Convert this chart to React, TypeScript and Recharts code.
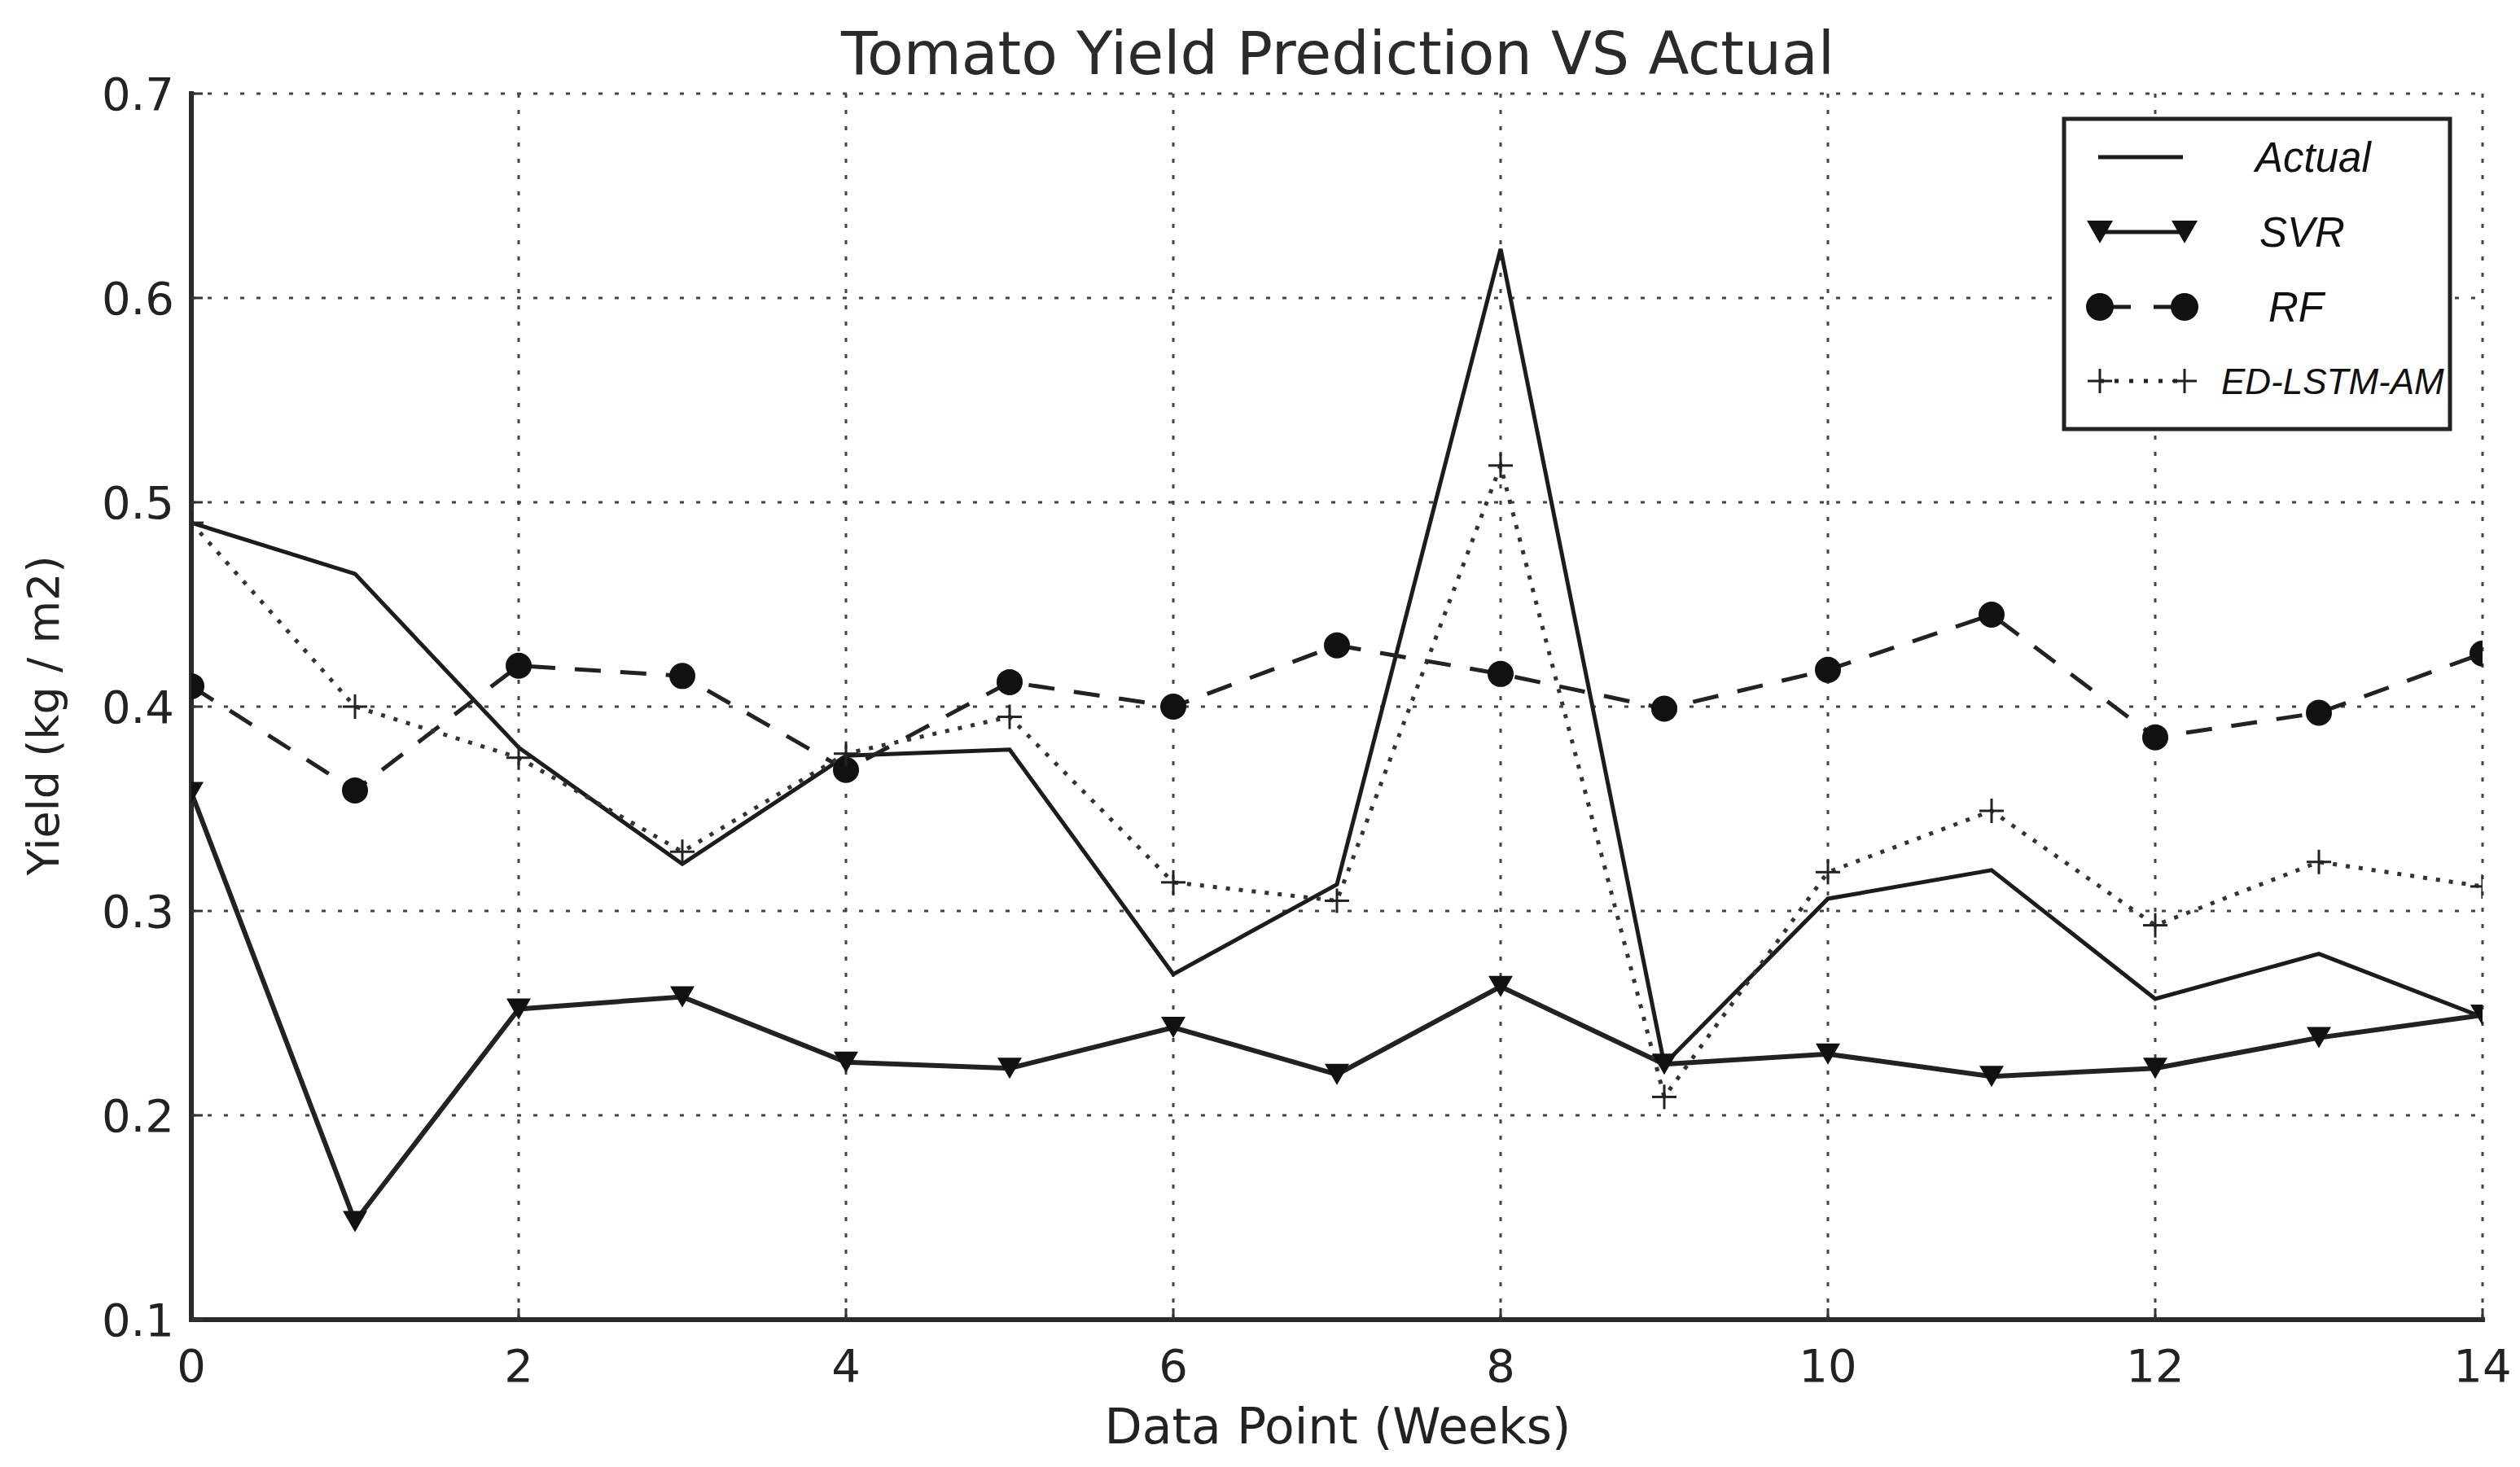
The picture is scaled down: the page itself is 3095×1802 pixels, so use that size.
import React from 'react';
import { LineChart, Line, XAxis, YAxis, CartesianGrid, Legend } from 'recharts';

const weeks = [0, 1, 2, 3, 4, 5, 6, 7, 8, 9, 10, 11, 12, 13, 14];
const actual = [0.49, 0.465, 0.38, 0.323, 0.376, 0.379, 0.269, 0.313, 0.624, 0.225, 0.306, 0.32, 0.257, 0.279, 0.248];
const svr = [0.358, 0.148, 0.252, 0.258, 0.226, 0.223, 0.243, 0.22, 0.263, 0.225, 0.23, 0.219, 0.223, 0.238, 0.249];
const rf = [0.41, 0.359, 0.42, 0.415, 0.369, 0.412, 0.4, 0.43, 0.416, 0.399, 0.418, 0.445, 0.385, 0.397, 0.426];
const edLstm = [0.49, 0.4, 0.375, 0.329, 0.377, 0.395, 0.314, 0.305, 0.518, 0.209, 0.319, 0.349, 0.293, 0.324, 0.312];

const xTicks = [0, 2, 4, 6, 8, 10, 12, 14];
const yTicks = [0.1, 0.2, 0.3, 0.4, 0.5, 0.6, 0.7];
const seriesOrder = ['Actual', 'SVR', 'RF', 'ED-LSTM-AM'];

const data = weeks.map((w, i) => ({
  week: w,
  actual: actual[i],
  svr: svr[i],
  rf: rf[i],
  ed: edLstm[i],
}));

const FONT = '"DejaVu Sans", sans-serif';
const INK = '#1c1c1c';

const triangle = (cx: number, cy: number, w: number, h: number) =>
  `M${cx - w},${cy - h} L${cx + w},${cy - h} L${cx},${cy + h} Z`;

const SvrDot = (props: any) => {
  const { cx, cy, index } = props;
  if (cx == null || cy == null) return <g key={`svr-${index}`} />;
  return <path key={`svr-${index}`} d={triangle(cx, cy, 15, 13)} fill="#111" />;
};

const RfDot = (props: any) => {
  const { cx, cy, index } = props;
  if (cx == null || cy == null) return <g key={`rf-${index}`} />;
  return <circle key={`rf-${index}`} cx={cx} cy={cy} r={16} fill="#111" />;
};

const PlusDot = (props: any) => {
  const { cx, cy, index } = props;
  if (cx == null || cy == null) return <g key={`ed-${index}`} />;
  return (
    <g key={`ed-${index}`} stroke="#222" strokeWidth={3}>
      <line x1={cx - 15} y1={cy} x2={cx + 15} y2={cy} />
      <line x1={cx} y1={cy - 15} x2={cx} y2={cy + 15} />
    </g>
  );
};

// legend box drawn like the matplotlib one
const renderLegend = (props: any) => {
  const payload = [...(props.payload || [])].sort(
    (a: any, b: any) => seriesOrder.indexOf(a.value) - seriesOrder.indexOf(b.value)
  );
  const rowY = [50, 142, 234, 325];
  const textX = [238, 243, 254, 196];
  const x1 = 47;
  const x2 = 151;
  return (
    <svg width={480} height={387} style={{ display: 'block' }}>
      <rect x={3} y={3} width={474} height={381} fill="#fff" stroke="#222" strokeWidth={5} />
      {payload.map((entry: any, i: number) => {
        const y = rowY[i];
        let symbol: React.ReactNode = null;
        if (entry.value === 'Actual') {
          symbol = <line x1={x1 - 2} y1={y} x2={x2 - 2} y2={y} stroke={INK} strokeWidth={5} />;
        } else if (entry.value === 'SVR') {
          symbol = (
            <g>
              <line x1={x1} y1={y} x2={x2} y2={y} stroke={INK} strokeWidth={5} />
              <path d={triangle(x1, y, 16, 14)} fill="#111" />
              <path d={triangle(x2, y, 16, 14)} fill="#111" />
            </g>
          );
        } else if (entry.value === 'RF') {
          symbol = (
            <g>
              <line x1={x1} y1={y} x2={x2} y2={y} stroke={INK} strokeWidth={5} strokeDasharray="38 28" />
              <circle cx={x1} cy={y} r={17} fill="#111" />
              <circle cx={x2} cy={y} r={17} fill="#111" />
            </g>
          );
        } else {
          symbol = (
            <g stroke="#222">
              <line x1={x1} y1={y} x2={x2} y2={y} strokeWidth={5} strokeDasharray="5 13" />
              <line x1={x1 - 15} y1={y} x2={x1 + 15} y2={y} strokeWidth={3} />
              <line x1={x1} y1={y - 15} x2={x1} y2={y + 15} strokeWidth={3} />
              <line x1={x2 - 15} y1={y} x2={x2 + 15} y2={y} strokeWidth={3} />
              <line x1={x2} y1={y - 15} x2={x2} y2={y + 15} strokeWidth={3} />
            </g>
          );
        }
        return (
          <g key={entry.value}>
            {symbol}
            <text
              x={textX[i]}
              y={y}
              dy="0.36em"
              fontFamily='"Liberation Sans", Arial, sans-serif'
              fontStyle="italic"
              fontSize={entry.value === 'ED-LSTM-AM' ? 44 : 51}
              fill="#111"
            >
              {entry.value}
            </text>
          </g>
        );
      })}
    </svg>
  );
};

const tickStyle = { fontSize: 56, fill: '#222', fontFamily: FONT };
const axisLine = { stroke: '#2a2a2a', strokeWidth: 6, strokeLinecap: 'square' as const };
const tickLine = { stroke: '#333', strokeWidth: 3 };

export default function App() {
  return (
    <div style={{ position: 'relative', width: 3079, height: 1786, background: '#fff', fontFamily: FONT }}>
      <div
        style={{
          position: 'absolute',
          left: 1635,
          top: 57,
          transform: 'translate(-50%, -50%)',
          fontSize: 73,
          lineHeight: 1,
          color: '#2a2a2a',
          whiteSpace: 'nowrap',
        }}
      >
        Tomato Yield Prediction VS Actual
      </div>
      <div
        style={{
          position: 'absolute',
          left: 1635,
          top: 1744,
          transform: 'translate(-50%, -50%)',
          fontSize: 60,
          lineHeight: 1,
          color: '#222',
          whiteSpace: 'nowrap',
        }}
      >
        Data Point (Weeks)
      </div>
      <div
        style={{
          position: 'absolute',
          left: 46,
          top: 871,
          transform: 'translate(-50%, -50%) rotate(-90deg)',
          fontSize: 54,
          lineHeight: 1,
          color: '#222',
          whiteSpace: 'nowrap',
        }}
      >
        Yield (kg / m2)
      </div>
      <LineChart
        width={3079}
        height={1786}
        data={data}
        margin={{ top: 107, right: 38, bottom: 93, left: 97 }}
      >
        <CartesianGrid stroke="#444" strokeWidth={3} strokeDasharray="5 15" />
        <XAxis
          dataKey="week"
          type="number"
          domain={[0, 14]}
          ticks={xTicks}
          allowDataOverflow
          height={80}
          tick={tickStyle}
          tickSize={-14}
          tickMargin={50}
          axisLine={axisLine}
          tickLine={tickLine}
        />
        <XAxis
          xAxisId="top"
          orientation="top"
          type="number"
          domain={[0, 14]}
          ticks={xTicks}
          allowDataOverflow
          height={0}
          tick={false}
          tickSize={-14}
          axisLine={axisLine}
          tickLine={tickLine}
        />
        <YAxis
          type="number"
          domain={[0.1, 0.7]}
          ticks={yTicks}
          allowDataOverflow
          width={130}
          tick={tickStyle}
          tickFormatter={(v: number) => v.toFixed(1)}
          tickSize={-14}
          tickMargin={35}
          axisLine={axisLine}
          tickLine={tickLine}
        />
        <YAxis
          yAxisId="right"
          orientation="right"
          type="number"
          domain={[0.1, 0.7]}
          ticks={yTicks}
          allowDataOverflow
          width={0}
          tick={false}
          tickSize={-14}
          axisLine={axisLine}
          tickLine={tickLine}
        />
        <Line
          name="Actual"
          dataKey="actual"
          type="linear"
          stroke={INK}
          strokeWidth={5}
          dot={false}
          isAnimationActive={false}
        />
        <Line
          name="SVR"
          dataKey="svr"
          type="linear"
          stroke="#222"
          strokeWidth={6}
          dot={SvrDot}
          isAnimationActive={false}
        />
        <Line
          name="RF"
          dataKey="rf"
          type="linear"
          stroke="#222"
          strokeWidth={5}
          strokeDasharray="32 24"
          dot={RfDot}
          isAnimationActive={false}
        />
        <Line
          name="ED-LSTM-AM"
          dataKey="ed"
          type="linear"
          stroke="#333"
          strokeWidth={5}
          strokeDasharray="5 11"
          dot={PlusDot}
          isAnimationActive={false}
        />
        <Legend
          layout="vertical"
          align="center"
          verticalAlign="middle"
          content={renderLegend}
          wrapperStyle={{ position: 'absolute', left: 2524, top: 135, width: 480, height: 387 }}
        />
      </LineChart>
    </div>
  );
}
